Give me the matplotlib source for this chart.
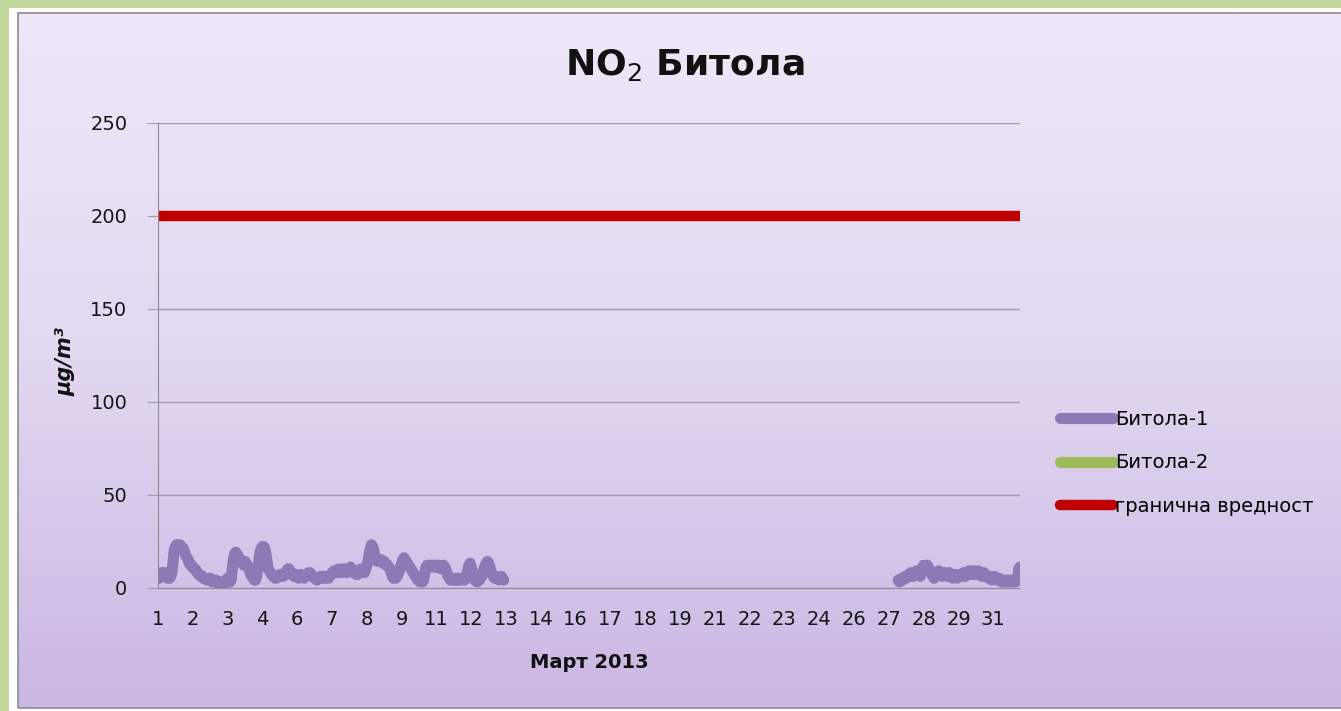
import numpy as np
import matplotlib
matplotlib.use("Agg")
import matplotlib.pyplot as plt
from matplotlib.colors import LinearSegmentedColormap
from matplotlib.patches import Rectangle

plt.rcParams['font.family'] = ['DejaVu Sans']

# x axis: one category per hour of March 2013, a day label every 30 hours
day_labels = [1, 2, 3, 4, 6, 7, 8, 9, 11, 12, 13, 14, 16, 17, 18, 19,
              21, 22, 23, 24, 26, 27, 28, 29, 31]
hours_per_label = 30

# hourly NO2 at Bitola-1 (ug/m3), one row per day, None = no measurement
no_data_day = [None] * 24
bitola1 = (
    [6, 5, 7, 8, 7, 6, 8, 7, 5, 5, 5, 6, 8, 14, 20, 22, 23, 22, 22, 23, 21, 20, 21, 19]          # 1
    + [17, 16, 15, 13, 12, 12, 11, 10, 10, 9, 8, 7, 7, 6, 6, 5, 5, 5, 4, 4, 4, 5, 4, 3]          # 2
    + [3, 3, 4, 3, 3, 2, 2, 3, 3, 2, 3, 4, 5, 4, 3, 4, 10, 15, 18, 19, 18, 17, 16, 15]           # 3
    + [14, 13, 12, 14, 13, 12, 11, 9, 7, 6, 5, 4, 4, 6, 10, 15, 19, 21, 22, 22, 21, 18, 14, 10]  # 4
    + [9, 8, 7, 6, 6, 5, 5, 6, 6, 7, 7, 6, 6, 7, 8, 9, 10, 10, 9, 8, 7, 6, 6, 7]                 # 5
    + [6, 5, 6, 7, 6, 6, 5, 6, 7, 7, 8, 8, 7, 6, 6, 5, 5, 4, 5, 5, 6, 6, 5, 6]                   # 6
    + [6, 5, 5, 5, 6, 7, 8, 8, 9, 8, 8, 9, 10, 9, 8, 9, 10, 10, 9, 8, 9, 10, 11, 10]             # 7
    + [9, 8, 8, 7, 7, 8, 9, 10, 9, 8, 8, 10, 12, 14, 18, 21, 23, 22, 20, 17, 15, 14, 15, 14]     # 8
    + [15, 14, 13, 14, 13, 12, 12, 11, 10, 8, 6, 5, 5, 5, 6, 7, 9, 11, 13, 15, 16, 15, 14, 13]   # 9
    + [12, 11, 10, 9, 8, 7, 6, 5, 4, 4, 3, 3, 3, 4, 8, 11, 12, 12, 11, 12, 12, 11, 12, 11]       # 10
    + [12, 11, 12, 11, 10, 11, 12, 11, 10, 8, 6, 5, 4, 4, 5, 4, 4, 5, 4, 5, 4, 4, 5, 5]          # 11
    + [4, 5, 6, 9, 12, 13, 11, 8, 5, 4, 4, 3, 4, 4, 5, 6, 8, 10, 12, 13, 14, 13, 11, 9]          # 12
    + [7, 6, 5, 6, 5, 5, 4, 5, 6, 5, 4] + [None] * 13                                            # 13
    + no_data_day * 13                                                                           # 14-26
    + [None] * 14 + [4, 3, 4, 5, 4, 5, 6, 5, 6, 7]                                               # 27
    + [6, 8, 7, 6, 7, 8, 9, 8, 7, 6, 8, 10, 12, 11, 10, 12, 11, 9, 8, 7, 6, 5, 6, 7]             # 28
    + [8, 9, 8, 7, 6, 7, 8, 7, 6, 7, 8, 7, 6, 5, 6, 7, 6, 5, 6, 7, 6, 7, 8, 7]                   # 29
    + [6, 7, 8, 9, 8, 7, 8, 9, 8, 7, 8, 9, 8, 7, 6, 7, 8, 7, 6, 6, 5, 6, 5, 4]                   # 30
    + [5, 6, 5, 4, 4, 5, 4, 3, 4, 3, 3, 4, 3, 3, 4, 3, 3, 3, 4, 3, 4, 5, 10, 11]                 # 31
)
# Bitola-2 had no data this month
bitola2 = [None] * len(bitola1)
limit_value = 200

W, H = 1341, 711


def fig_rect(x0, y0, x1, y1):
    # pixel box (top-left origin) -> figure fraction [left, bottom, width, height]
    return [x0 / W, 1 - y1 / H, (x1 - x0) / W, (y1 - y0) / H]


fig = plt.figure(figsize=(W / 100, H / 100), dpi=100, facecolor='#c3d69b')

# white mat and lavender gradient panel
l, b, w, h = fig_rect(9, 8, W, H)
fig.add_artist(Rectangle((l, b), w, h, transform=fig.transFigure,
                         facecolor='white', edgecolor='none', zorder=0))
bg = fig.add_axes(fig_rect(18, 13, W, 708), zorder=0)
grad = LinearSegmentedColormap.from_list('lav', ['#eee8f8', '#e2d7f1', '#cab7e3'])
bg.imshow(np.linspace(0, 1, 256).reshape(-1, 1), aspect='auto', cmap=grad,
          extent=[0, 1, 0, 1])
bg.axis('off')
l, b, w, h = fig_rect(18, 13, W + 5, 708)
fig.add_artist(Rectangle((l, b), w, h, transform=fig.transFigure,
                         facecolor='none', edgecolor='#8e8a94', lw=1.2, zorder=1))

ax = fig.add_axes(fig_rect(158, 123, 1020, 587.5), facecolor='none', zorder=2)
hours = np.arange(len(bitola1))

l1, = ax.plot(hours, np.array(bitola1, dtype=float), color='#8c79b6', lw=8,
              solid_capstyle='round', solid_joinstyle='round', label='Битола-1')
l2, = ax.plot(hours, np.array(bitola2, dtype=float), color='#9bbb59', lw=8,
              solid_capstyle='round', label='Битола-2')
l3, = ax.plot(hours, [limit_value] * len(hours), color='#c00000', lw=7.5,
              solid_capstyle='round', label='гранична вредност')

ax.set_xlim(0, len(hours) - 1)
ax.set_ylim(0, 250)
ax.set_yticks(range(0, 251, 50))
ax.set_xticks(np.arange(len(day_labels)) * hours_per_label)
ax.set_xticklabels([str(d) for d in day_labels])
ax.grid(axis='y', color='#a29cab', lw=1)
ax.set_axisbelow(True)
for side in ['top', 'right']:
    ax.spines[side].set_visible(False)
for side in ['left', 'bottom']:
    ax.spines[side].set_color('#8f8a96')
ax.tick_params(axis='y', length=8, color='#a29cab', pad=14, labelsize=14, labelcolor='#151515')
ax.tick_params(axis='x', length=0, pad=16, labelsize=14, labelcolor='#151515')

fig.text(685 / W, 1 - 65 / H, r'NO$_2$ Битола', ha='center', va='center',
         fontsize=26, fontweight='bold', color='#111111')
fig.text(589 / W, 1 - 662 / H, 'Март 2013', ha='center', va='center',
         fontsize=14, fontweight='bold', color='#111111')
fig.text(66 / W, 1 - 362 / H, 'μg/m³', ha='center', va='center', rotation=90,
         fontsize=15, fontweight='bold', style='italic', color='#111111')

fig.legend(handles=[l1, l2, l3], loc='center left', bbox_to_anchor=(1060 / W, 1 - 463 / H),
           frameon=False, fontsize=14, handlelength=2.7, handletextpad=0.15,
           labelspacing=1.25, borderpad=0, borderaxespad=0)

fig.savefig('out.png', dpi=100)
